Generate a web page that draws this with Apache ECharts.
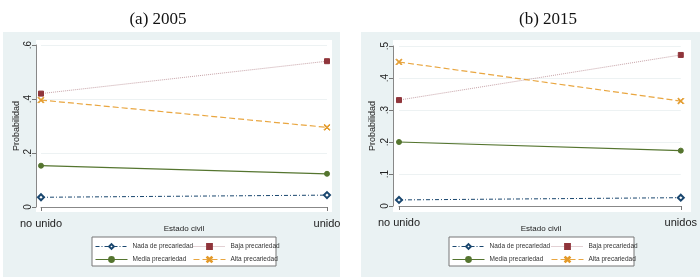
<!DOCTYPE html>
<html>
<head>
<meta charset="utf-8">
<script src="https://cdn.jsdelivr.net/npm/echarts@6/dist/echarts.min.js"></script>
<style>
  html, body { margin: 0; padding: 0; background: #fff; }
  #chart { width: 700px; height: 280px; }
</style>
</head>
<body>
<div id="chart"></div>
<script>
var catsA = ['no unido', 'unido'];
var catsB = ['no unido', 'unidos'];
var seriesNames = ['Nada de precariedad', 'Baja precariedad', 'Media precariedad', 'Alta precariedad'];
var xTitle = 'Estado civil';
var yTitle = 'Probabilidad';

// panel (a) 2005
var nadaA = [0.036, 0.044];
var bajaA = [0.42, 0.54];
var mediaA = [0.153, 0.123];
var altaA = [0.396, 0.295];

// panel (b) 2015
var nadaB = [0.019, 0.026];
var bajaB = [0.331, 0.472];
var mediaB = [0.200, 0.173];
var altaB = [0.450, 0.328];

var ticksA = { min: 0, max: 0.6, interval: 0.2 };
var ticksB = { min: 0, max: 0.5, interval: 0.1 };

var xSymbol = 'path://M0,1L1,0L5,4L9,0L10,1L6,5L10,9L9,10L5,6L1,10L0,9L4,5Z';

function fmtTick(v) {
  if (v === 0) return '0';
  return String(+v.toFixed(2)).replace(/^0/, '');
}

var styles = [
  { symbol: 'emptyDiamond', symbolSize: 6, color: '#1a476f', line: { color: '#1a476f', width: 1, type: [4, 2, 1, 2] } },
  { symbol: 'rect', symbolSize: 5, color: '#90353b', line: { color: '#c7a3a8', width: 1, type: [1, 1] } },
  { symbol: 'circle', symbolSize: 5, color: '#55752f', line: { color: '#55752f', width: 1.2, type: 'solid' } },
  { symbol: xSymbol, symbolSize: 6, color: '#e39a2a', line: { color: '#e9a640', width: 1.2, type: [6, 3] } }
];

function makeSeries(idx, dataSets) {
  return dataSets.map(function (d, i) {
    var s = styles[i];
    return {
      name: seriesNames[i],
      type: 'line',
      xAxisIndex: idx,
      yAxisIndex: idx,
      data: d,
      symbol: s.symbol,
      symbolSize: s.symbolSize,
      showAllSymbol: true,
      itemStyle: { color: s.color, borderColor: s.color, borderWidth: 1 },
      lineStyle: s.line,
      emphasis: { disabled: true },
      animation: false
    };
  });
}

function xAxisOpt(idx, cats) {
  return {
    type: 'category',
    gridIndex: idx,
    data: cats,
    boundaryGap: false,
    offset: 6,
    axisLine: { lineStyle: { color: '#888', width: 1 } },
    axisTick: { show: true, length: 4, lineStyle: { color: '#777' } },
    axisLabel: { color: '#222', fontSize: 11, fontFamily: 'Liberation Sans', margin: 5 }
  };
}

function yAxisOpt(idx, t, off) {
  return {
    type: 'value',
    gridIndex: idx,
    min: t.min,
    max: t.max,
    interval: t.interval,
    offset: off,
    axisLine: { show: true, lineStyle: { color: '#888', width: 1 } },
    axisTick: { show: true, length: 4, lineStyle: { color: '#777' } },
    axisLabel: { color: '#222', fontSize: 10, fontFamily: 'Liberation Sans', rotate: 90, margin: 3, formatter: fmtTick },
    splitLine: { show: true, lineStyle: { color: '#edf2f3', width: 1 } }
  };
}

function legendCol(left, names) {
  return {
    orient: 'vertical',
    left: left,
    top: 243,
    padding: 0,
    data: names,
    itemWidth: 32,
    itemHeight: 6,
    itemGap: 6,
    selectedMode: false,
    lineStyle: { width: 1 },
    textStyle: { color: '#333', fontSize: 6.5, fontFamily: 'Liberation Sans' }
  };
}

function axisTitle(text, x, y, rot) {
  return {
    type: 'text', z: 5, x: x, y: y, rotation: rot ? Math.PI / 2 : 0,
    style: { text: text, fill: '#222', fontSize: rot ? 9 : 8, fontFamily: 'Liberation Sans', align: 'center', verticalAlign: 'middle' }
  };
}

var chart = echarts.init(document.getElementById('chart'));

var option = {
  animation: false,
  backgroundColor: '#fff',
  title: [
    { text: '(a) 2005', left: 153, top: 6, textAlign: 'center',
      textStyle: { fontFamily: 'Liberation Serif', fontSize: 17, fontWeight: 'normal', color: '#111' } },
    { text: '(b) 2015', left: 543, top: 6, textAlign: 'center',
      textStyle: { fontFamily: 'Liberation Serif', fontSize: 17, fontWeight: 'normal', color: '#111' } }
  ],
  graphic: [
    { type: 'rect', z: -10, shape: { x: 3, y: 32, width: 337, height: 245 }, style: { fill: '#eaf2f3' } },
    { type: 'rect', z: -10, shape: { x: 361, y: 32, width: 339, height: 245 }, style: { fill: '#eaf2f3' } },
    { type: 'rect', z: -9, shape: { x: 36, y: 40, width: 296, height: 172 }, style: { fill: '#fff' } },
    { type: 'rect', z: -9, shape: { x: 393, y: 40, width: 298, height: 172 }, style: { fill: '#fff' } },
    { type: 'rect', z: -9, shape: { x: 92, y: 237, width: 184, height: 29 }, style: { fill: '#fff', stroke: '#777', lineWidth: 1 } },
    { type: 'rect', z: -9, shape: { x: 449, y: 237, width: 185, height: 29 }, style: { fill: '#fff', stroke: '#777', lineWidth: 1 } },
    axisTitle(xTitle, 184, 229, false),
    axisTitle(xTitle, 541, 229, false),
    axisTitle(yTitle, 17, 126, true),
    axisTitle(yTitle, 373, 126, true)
  ],
  legend: [
    legendCol(95, [seriesNames[0], seriesNames[2]]),
    legendCol(193, [seriesNames[1], seriesNames[3]]),
    legendCol(452, [seriesNames[0], seriesNames[2]]),
    legendCol(551, [seriesNames[1], seriesNames[3]])
  ],
  grid: [
    { left: 41, top: 45, width: 286, height: 162 },
    { left: 399, top: 46, width: 285, height: 160 }
  ],
  xAxis: [xAxisOpt(0, catsA), xAxisOpt(1, catsB)],
  yAxis: [yAxisOpt(0, ticksA, 5), yAxisOpt(1, ticksB, 6)],
  series: makeSeries(0, [nadaA, bajaA, mediaA, altaA]).concat(makeSeries(1, [nadaB, bajaB, mediaB, altaB]))
};

chart.setOption(option);
</script>
</body>
</html>
